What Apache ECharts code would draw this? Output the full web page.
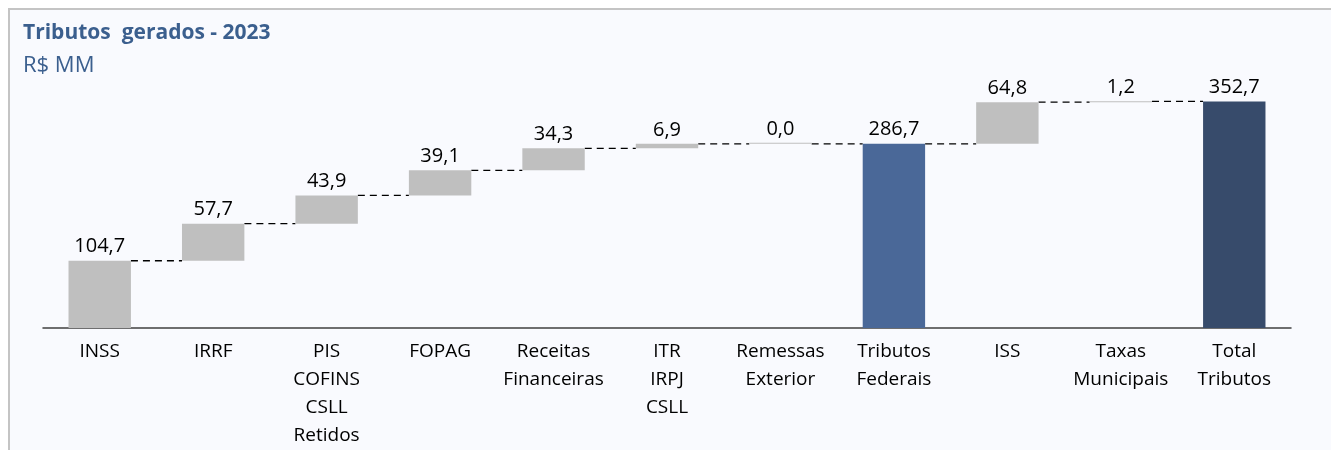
<!DOCTYPE html>
<html>
<head>
<meta charset="utf-8">
<script src="https://cdn.jsdelivr.net/npm/echarts@6/dist/echarts.min.js"></script>
<style>
  html, body { margin: 0; padding: 0; background: #ffffff; overflow: hidden; width: 1331px; height: 450px; }
  #frame {
    position: absolute; left: 8px; top: 8px; width: 1321px; height: 440px;
    border-top: 2px solid #c4c4c4; border-left: 2px solid #c4c4c4;
    background: #f9fafe;
  }
  #chart { position: absolute; left: 0; top: 0; width: 1331px; height: 450px; }
</style>
</head>
<body>
<div id="frame"></div>
<div id="chart"></div>
<script>
const categories = ['INSS', 'IRRF', 'PIS\nCOFINS\nCSLL\nRetidos', 'FOPAG', 'Receitas\nFinanceiras',
  'ITR\nIRPJ\nCSLL', 'Remessas\nExterior', 'Tributos\nFederais', 'ISS', 'Taxas\nMunicipais', 'Total\nTributos'];
const values = [104.7, 57.7, 43.9, 39.1, 34.3, 6.9, 0.0, 286.7, 64.8, 1.2, 352.7];
// 0 = step, 1 = subtotal, 2 = total
const kinds = [0, 0, 0, 0, 0, 0, 0, 1, 0, 0, 2];

const grey = '#bfbfbf';
const subColor = '#4a6898';
const totalColor = '#374b6b';

// invisible bases + connector levels
const bases = [];
const levels = [];
let running = 0;
values.forEach((v, i) => {
  if (kinds[i] === 0) {
    bases.push(running);
    running += v;
  } else {
    bases.push(0);
    running = v;
  }
  levels.push(running);
});

const fmt = v => v.toFixed(1).replace('.', ',');

const chart = echarts.init(document.getElementById('chart'));

chart.setOption({
  animation: false,
  textStyle: { fontFamily: '"Open Sans", sans-serif' },
  title: [
    {
      text: 'Tributos  gerados - 2023',
      left: 18, top: 18,
      textStyle: { fontSize: 21, fontWeight: 'bold', color: '#3b5f8e', fontFamily: '"Open Sans", sans-serif' }
    },
    {
      text: 'R$ MM',
      left: 18, top: 50,
      textStyle: { fontSize: 22, fontWeight: 'normal', color: '#3b5f8e', fontFamily: '"Open Sans", sans-serif' }
    }
  ],
  grid: { left: 43, right: 40, top: 71, bottom: 122 },
  xAxis: {
    type: 'category',
    data: categories,
    axisLine: { lineStyle: { color: '#404040', width: 1.5 } },
    axisTick: { show: false },
    axisLabel: {
      color: '#000',
      fontSize: 19,
      lineHeight: 28,
      margin: 10,
      interval: 0,
      fontFamily: '"Open Sans", sans-serif'
    }
  },
  yAxis: {
    type: 'value',
    min: 0, max: 400,
    show: false,
    splitLine: { show: false }
  },
  series: [
    {
      type: 'bar',
      stack: 'w',
      data: bases,
      itemStyle: { color: 'transparent' },
      silent: true,
      barCategoryGap: '45%'
    },
    {
      type: 'bar',
      stack: 'w',
      barMinHeight: 1,
      data: values.map((v, i) => ({
        value: v,
        itemStyle: { color: kinds[i] === 1 ? subColor : kinds[i] === 2 ? totalColor : grey }
      })),
      label: {
        show: true,
        position: 'top',
        distance: 4,
        color: '#000',
        fontSize: 20,
        formatter: p => fmt(p.value)
      }
    },
    {
      type: 'custom',
      data: levels.slice(0, -1).map((l, i) => [i, l]),
      renderItem: (params, api) => {
        const i = api.value(0);
        const p1 = api.coord([i, api.value(1)]);
        const p2 = api.coord([i + 1, api.value(1)]);
        const band = api.size([1, 0])[0];
        const half = band * 0.55 / 2;
        return {
          type: 'line',
          shape: { x1: p1[0] + half, y1: p1[1], x2: p2[0] - half, y2: p2[1] },
          style: { stroke: '#000', lineWidth: 1.3, lineDash: [7, 5] }
        };
      },
      z: 1
    }
  ]
});
</script>
</body>
</html>
